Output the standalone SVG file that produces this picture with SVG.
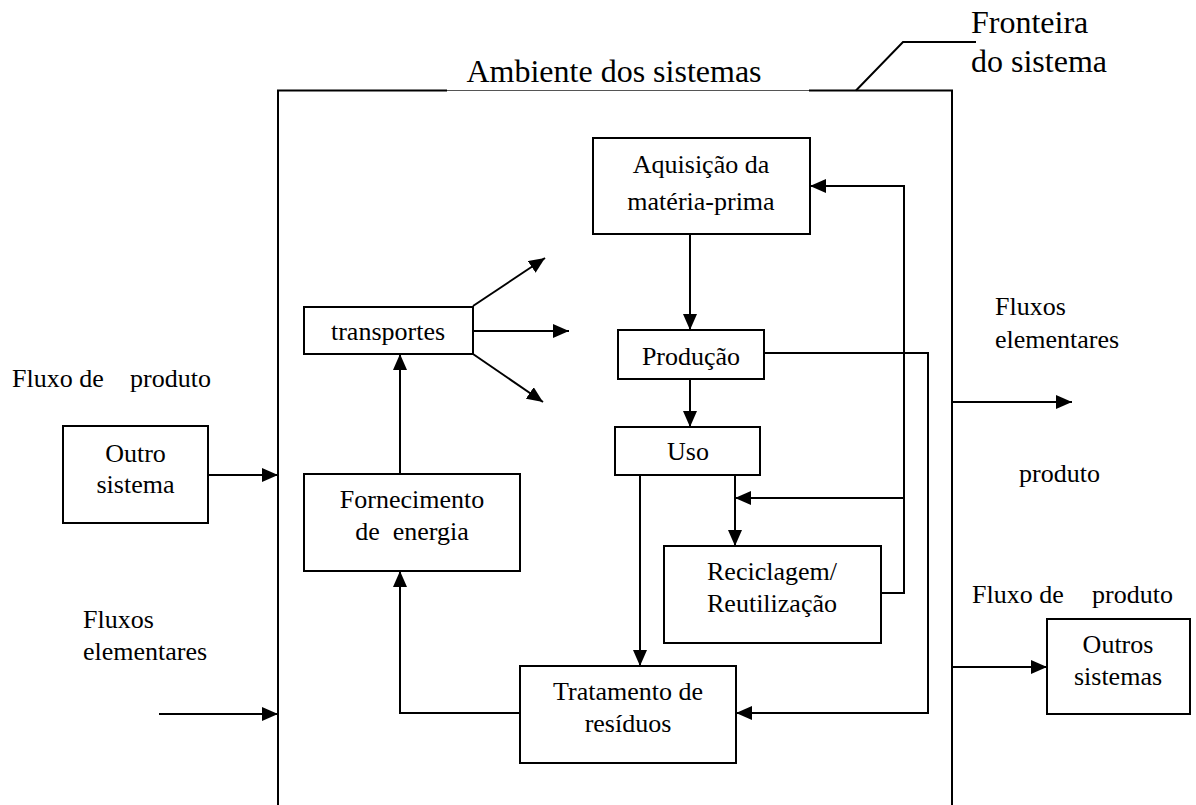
<svg xmlns="http://www.w3.org/2000/svg" width="1196" height="805" viewBox="0 0 1196 805">
<defs>
<marker id="ah" markerUnits="userSpaceOnUse" markerWidth="16" markerHeight="14" refX="16" refY="7" orient="auto"><path d="M0,0 L16,7 L0,14 z" fill="#000"/></marker>
</defs>
<style>
.box{fill:#fff;stroke:#000;stroke-width:2}
.ln{fill:none;stroke:#000;stroke-width:2}
.arr{fill:none;stroke:#000;stroke-width:2;marker-end:url(#ah)}
text{font-family:"Liberation Serif","Times New Roman",serif;font-size:26px;fill:#000}
.c{text-anchor:middle}
.big{font-size:32px}
</style>
<rect width="1196" height="805" fill="#fff"/>
<g id="frame">
<path class="ln" d="M278,805 V90.5 H447"/>
<path class="ln" d="M809,90.5 H952 V805"/>
<line x1="447" y1="90.5" x2="809" y2="90.5" stroke="#555" stroke-width="1"/>
<path class="ln" d="M856,90.5 L903,42 H976" stroke-width="1.6"/>
<text x="614" y="82" class="c big">Ambiente dos sistemas</text>
<text x="971" y="33" class="big">Fronteira</text>
<text x="971" y="72" class="big">do sistema</text>
</g>
<g id="connectors">
<path class="arr" d="M690,234 V330"/>
<path class="arr" d="M690,379 V427"/>
<path class="arr" d="M640,475 V666"/>
<path class="arr" d="M735,475 V546"/>
<path class="arr" d="M881,593 H904 V186 H810"/>
<path class="arr" d="M904,498 H735"/>
<path class="arr" d="M764,353 H928 V713 H736"/>
<path class="arr" d="M520,713 H400 V571"/>
<path class="arr" d="M400,474 V354"/>
<path class="arr" d="M473,306 L545,258"/>
<path class="arr" d="M473,331 H569"/>
<path class="arr" d="M473,354 L543,402"/>
<path class="arr" d="M208,475 H278"/>
<path class="arr" d="M159,714 H278"/>
<path class="arr" d="M952,402 H1072"/>
<path class="arr" d="M952,667 H1047"/>
</g>
<g id="aquisicao">
<rect class="box" x="593" y="138" width="217" height="96"/>
<text x="701" y="173" class="c">Aquisição da</text>
<text x="701" y="210" class="c">matéria-prima</text>
</g>
<g id="producao">
<rect class="box" x="618" y="330" width="146" height="49"/>
<text x="691" y="365" class="c">Produção</text>
</g>
<g id="uso">
<rect class="box" x="615" y="427" width="145" height="48"/>
<text x="688" y="460" class="c">Uso</text>
</g>
<g id="transportes">
<rect class="box" x="304" y="307" width="169" height="47"/>
<text x="388" y="340" class="c">transportes</text>
</g>
<g id="fornecimento">
<rect class="box" x="304" y="474" width="216" height="97"/>
<text x="412" y="508" class="c">Fornecimento</text>
<text x="412" y="540" class="c" xml:space="preserve">de  energia</text>
</g>
<g id="reciclagem">
<rect class="box" x="664" y="546" width="217" height="97"/>
<text x="772" y="580" class="c">Reciclagem/</text>
<text x="772" y="612" class="c">Reutilização</text>
</g>
<g id="tratamento">
<rect class="box" x="520" y="666" width="216" height="97"/>
<text x="628" y="700" class="c">Tratamento de</text>
<text x="628" y="732" class="c">resíduos</text>
</g>
<g id="outro-sistema">
<rect class="box" x="63" y="426" width="145" height="97"/>
<text x="135.5" y="462" class="c">Outro</text>
<text x="135.5" y="493" class="c">sistema</text>
</g>
<g id="outros-sistemas">
<rect class="box" x="1047" y="619" width="143" height="95"/>
<text x="1118" y="653" class="c">Outros</text>
<text x="1118" y="685" class="c">sistemas</text>
</g>
<g id="labels">
<text x="12" y="387">Fluxo de<tspan x="130">produto</tspan></text>
<text x="83" y="628">Fluxos</text>
<text x="83" y="660">elementares</text>
<text x="995" y="315">Fluxos</text>
<text x="995" y="348">elementares</text>
<text x="1019" y="482">produto</text>
<text x="972" y="603">Fluxo de<tspan x="1092">produto</tspan></text>
</g>
</svg>
